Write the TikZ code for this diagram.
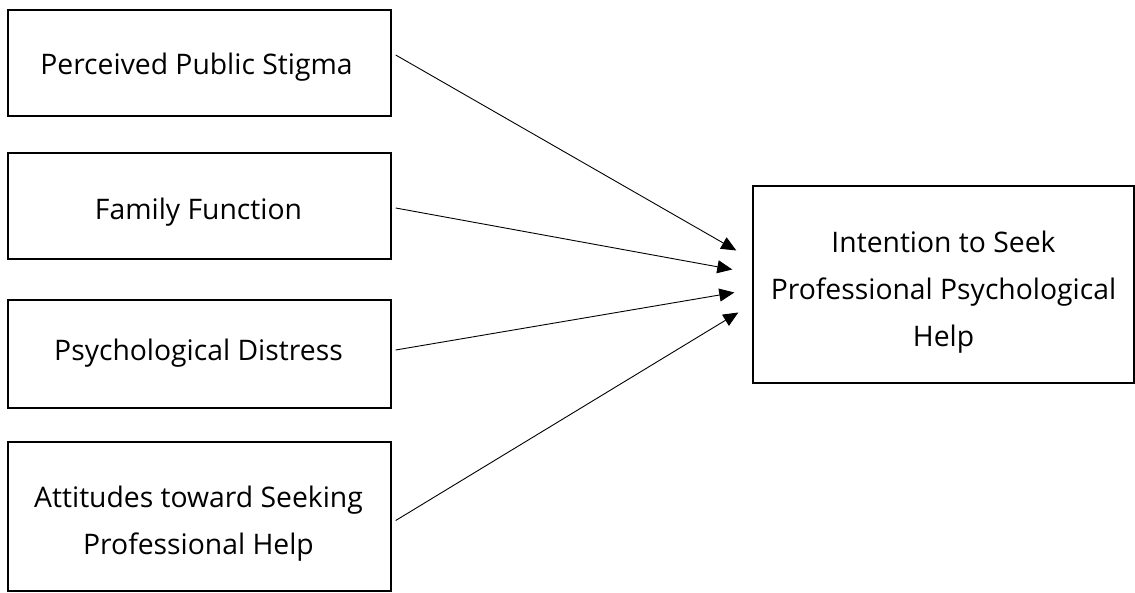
\documentclass[tikz,border=0pt]{standalone}
\usepackage{fontspec}
\setmainfont{Open Sans}
\usetikzlibrary{arrows.meta}
\begin{document}
\begin{tikzpicture}[x=1pt,y=1pt,
  box/.style={draw,line width=1.4pt,minimum width=383pt,inner sep=0pt},
  txt/.style={inner sep=0pt,align=center,text height=20pt,text depth=0pt,font=\fontsize{28.3}{47}\selectfont},
  link/.style={line width=0.9pt,-{Triangle[length=15pt,width=13pt]}}]
\useasboundingbox (0,0) rectangle (1135,592);
\node[box,minimum height=106pt] (b1) at (199.5,529) {};
\node[box,minimum height=106pt] (b2) at (199.5,386) {};
\node[box,minimum height=108pt] (b3) at (199.5,238) {};
\node[box,minimum height=149pt] (b4) at (199.5,75.5) {};
\node[box,minimum width=381pt,minimum height=197pt] (rb) at (943.5,307.5) {};
\node[txt] (l1) at ([shift={(-3,-2)}]b1.center) {Perceived Public Stigma};
\node[txt] (l2) at ([shift={(-1,-3.5)}]b2.center) {Family Function};
\node[txt] (l3) at ([shift={(-1,3)}]b3.center) {Psychological Distress};
\node[txt,text height=67pt] (l4) at ([shift={(-1,-4.5)}]b4.center) {Attitudes toward Seeking\\Professional Help};
\node[txt,text height=114pt] (lr) at ([shift={(0,-5.5)}]rb.center) {Intention to Seek\\Professional Psychological\\Help};
\coordinate (t1) at ([shift={(-16,34)}]rb.west);
\coordinate (t2) at ([shift={(-20,15)}]rb.west);
\coordinate (t3) at ([shift={(-18,-8)}]rb.west);
\coordinate (t4) at ([shift={(-14,-28)}]rb.west);
\draw[link] ([shift={(4,8)}]b1.east) -- (t1);
\draw[link] ([shift={(4,-2)}]b2.east) -- (t2);
\draw[link] ([shift={(4,4)}]b3.east) -- (t3);
\draw[link] ([shift={(4,-4)}]b4.east) -- (t4);
\end{tikzpicture}
\end{document}
